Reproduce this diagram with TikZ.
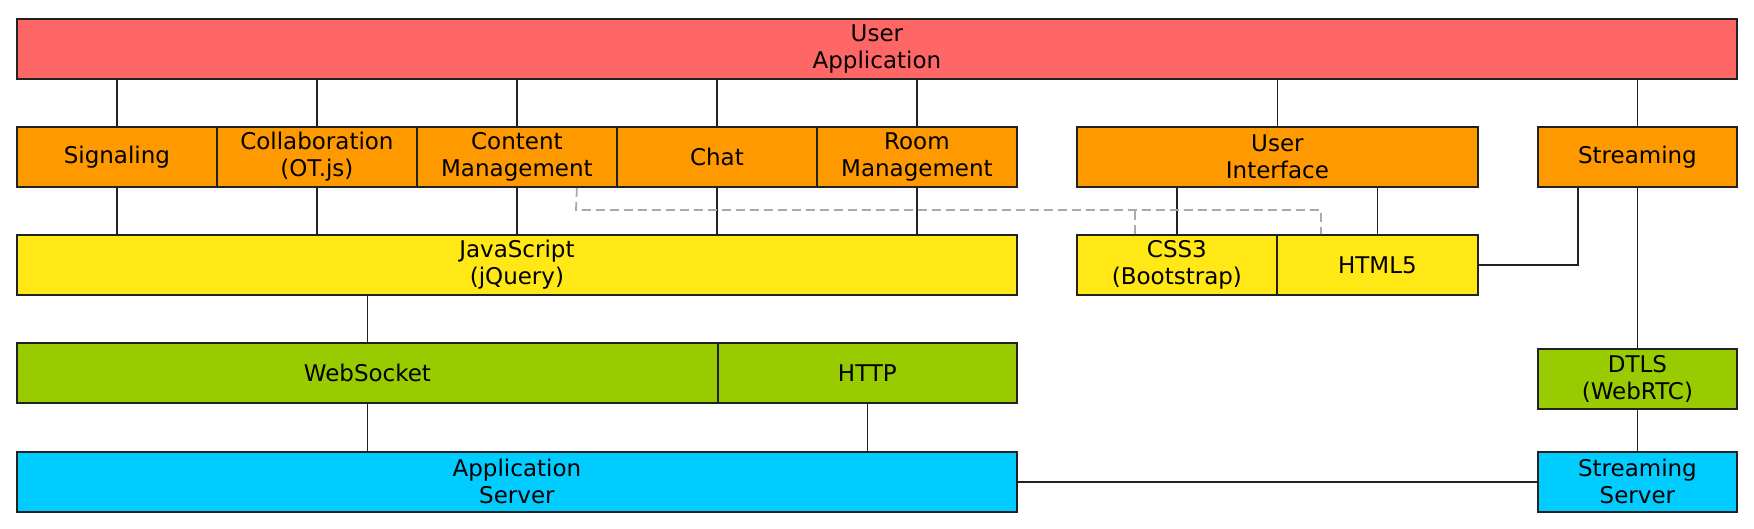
\documentclass[tikz,border=0pt]{standalone}
\usepackage{fontspec}
\setmainfont{DejaVu Sans}
\definecolor{cred}{HTML}{FF6666}
\definecolor{corange}{HTML}{FF9900}
\definecolor{cyellow}{HTML}{FFE815}
\definecolor{cgreen}{HTML}{99CC00}
\definecolor{ccyan}{HTML}{00CCFF}
\definecolor{cborder}{HTML}{222222}
\definecolor{cdash}{HTML}{AAAAAA}
\begin{document}
\begin{tikzpicture}[x=1pt,y=-1pt,
  box/.style={draw=cborder,line width=1.8pt,anchor=north west,inner sep=0pt,
    minimum height=60pt,align=center,
    font=\fontsize{23}{27}\selectfont},
  conn/.style={draw=cborder,line width=1.8pt},
  dashline/.style={draw=cdash,line width=1.8pt,dash pattern=on 9pt off 5pt}]
\useasboundingbox (0,0) rectangle (1754,528);
% row 1
\node[box,fill=cred,minimum width=1720pt] (ua) at (16,18) {User\\Application};
% row 2
\node[box,fill=corange,minimum width=200pt] (sig) at (16,126) {Signaling};
\node[box,fill=corange,minimum width=200pt] (col) at (216,126) {Collaboration\\(OT.js)};
\node[box,fill=corange,minimum width=200pt] (cm) at (416,126) {Content\\Management};
\node[box,fill=corange,minimum width=200pt] (chat) at (616,126) {Chat};
\node[box,fill=corange,minimum width=200pt] (room) at (816,126) {Room\\Management};
\node[box,fill=corange,minimum width=401pt] (ui) at (1076,126) {User\\Interface};
\node[box,fill=corange,minimum width=199pt] (str) at (1537,126) {Streaming};
% row 3
\node[box,fill=cyellow,minimum width=1000pt] (js) at (16,234) {JavaScript\\(jQuery)};
\node[box,fill=cyellow,minimum width=200pt] (css) at (1076,234) {CSS3\\(Bootstrap)};
\node[box,fill=cyellow,minimum width=201pt] (html) at (1276,234) {HTML5};
% row 4
\node[box,fill=cgreen,minimum width=701pt] (ws) at (16,342) {WebSocket};
\node[box,fill=cgreen,minimum width=299pt] (http) at (717,342) {HTTP};
\node[box,fill=cgreen,minimum width=199pt] (dtls) at (1537,348) {DTLS\\(WebRTC)};
% row 5
\node[box,fill=ccyan,minimum width=1000pt] (as) at (16,451) {Application\\Server};
\node[box,fill=ccyan,minimum width=199pt] (ss) at (1537,451) {Streaming\\Server};
% connectors up to user application
\foreach \n in {sig,col,cm,chat,room,ui,str}
  \draw[conn] (\n.north) -- (\n.north |- ua.south);
% row 2 to javascript
\foreach \n in {sig,col,cm,chat,room}
  \draw[conn] (\n.south) -- (\n.south |- js.north);
% UI to css/html
\draw[conn] (css.north) -- (css.north |- ui.south);
\draw[conn] (html.north) -- (html.north |- ui.south);
% dashed
\coordinate (d1) at (576,210);
\draw[dashline] ([xshift=60pt]cm.south) -- (d1) -| ([xshift=-56.5pt]html.north);
\draw[dashline] ([xshift=-42pt]css.north) -- ([xshift=-42pt]css.north |- d1);
% html to streaming
\draw[conn] (html.east) -| ([xshift=-59.5pt]str.south);
% streaming chain
\draw[conn] (str.south) -- (dtls.north);
\draw[conn] (dtls.south) -- (ss.north);
% js to websocket
\draw[conn] (ws.north) -- (ws.north |- js.south);
\draw[conn] (ws.south) -- (ws.south |- as.north);
\draw[conn] (http.south) -- (http.south |- as.north);
\draw[conn] (as.east) -- (ss.west);
\end{tikzpicture}
\end{document}
